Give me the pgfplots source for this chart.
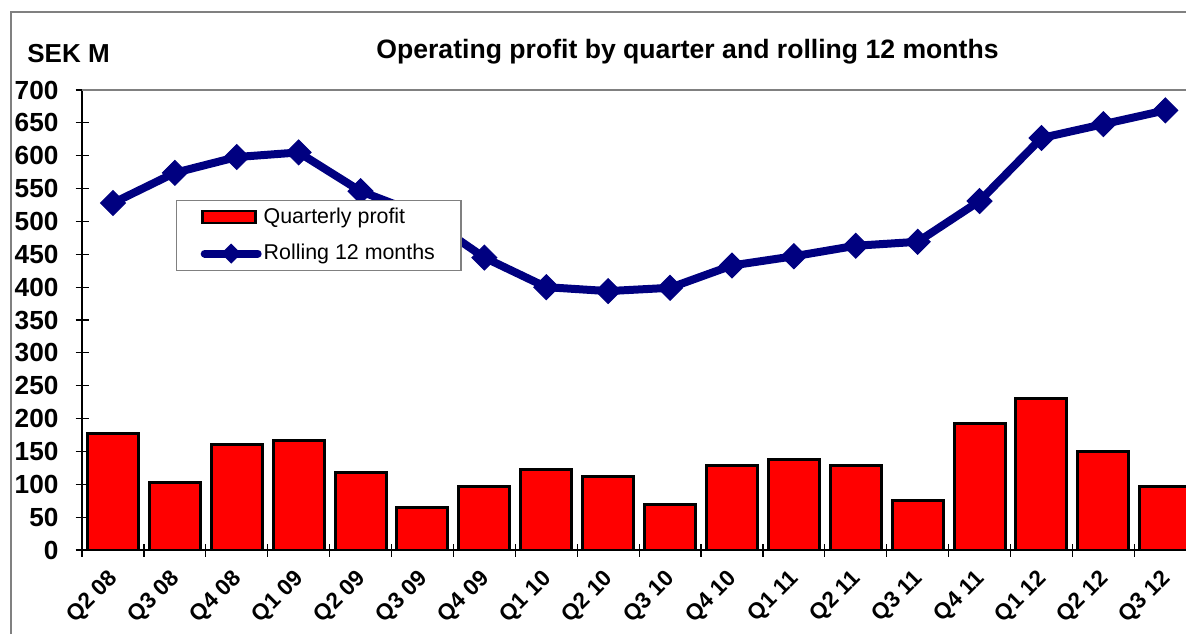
\documentclass[border=0pt]{standalone}
\usepackage{fontspec}
\setmainfont{Liberation Sans}
\usepackage{pgfplots}
\pgfplotsset{compat=1.18}
\definecolor{barred}{RGB}{255,0,0}
\definecolor{navyline}{RGB}{0,0,128}
\definecolor{framegray}{RGB}{128,128,128}

\begin{document}
\begin{tikzpicture}
\useasboundingbox (0,0) rectangle (593pt,317pt);
\draw[framegray, line width=0.8pt] (5.35pt,0pt) -- (5.35pt,311.1pt) -- (593pt,311.1pt);
\node[anchor=base west, inner sep=0pt, font=\bfseries\fontsize{13}{14}\selectfont] at (13.5pt,286pt) {SEK M};
\node[anchor=base, inner sep=0pt, font=\bfseries\fontsize{13.3}{15}\selectfont] at (343.75pt,288pt) {Operating profit by quarter and rolling 12 months};
\begin{axis}[
  at={(41pt,42pt)}, anchor=south west,
  scale only axis, width=552pt, height=230pt,
  xmin=-0.5, xmax=17.335, ymin=0, ymax=700,
  axis x line*=bottom, axis y line*=left,
  axis line style={-, black, line width=1pt},
  after end axis/.code={\draw[framegray, line width=0.8pt] (rel axis cs:0,1) -- (rel axis cs:1,1);},
  ytick={0,50,...,700},
  tick align=center, major tick length=6.5pt,
  tick style={black, line width=0.6pt},
  /pgf/number format/assume math mode=true,
  yticklabel style={font=\bfseries\fontsize{13.1}{15}\selectfont, xshift=-5pt},
  xtick={-0.5,0.5,...,16.5},
  xticklabels={},
  extra x ticks={0,1,...,17},
  extra x tick labels={Q2 08,Q3 08,Q4 08,Q1 09,Q2 09,Q3 09,Q4 09,Q1 10,Q2 10,Q3 10,Q4 10,Q1 11,Q2 11,Q3 11,Q4 11,Q1 12,Q2 12,Q3 12},
  extra x tick style={major tick length=0pt, xticklabel style={font=\bfseries\fontsize{11.3}{12}\selectfont, inner sep=0pt, xshift=-2.75pt, yshift=-9pt, rotate=45, anchor=north east}},
  legend style={at={(axis cs:1.02,533)}, anchor=north west, draw=framegray, line width=0.6pt,
    font=\fontsize{10.7}{12}\selectfont, inner xsep=12pt, inner ysep=1.75pt, row sep=5pt,
    cells={anchor=west}, nodes={inner xsep=1pt}},
  legend cell align=left,
]
\addplot[ybar, bar width=0.824, fill=barred, draw=black, line width=1.5pt,
  legend image code/.code={\draw[fill=barred, draw=black, line width=1.2pt] (0pt,-3pt) rectangle (26.5pt,3pt);}]
  coordinates {(0,178) (1,102) (2,160) (3,167) (4,118) (5,65) (6,96) (7,123) (8,112) (9,70) (10,129) (11,137) (12,128) (13,76) (14,192) (15,231) (16,150) (17,96)};
\addlegendentry{Quarterly profit}
\addplot[navyline, line width=4pt, mark=square*, mark size=4.4pt,
  mark options={rotate=45, solid, fill=navyline, draw=navyline, line width=0.5pt},
  legend image code/.code={\draw[navyline, line width=4pt, line cap=round] (1pt,0pt) -- (27.5pt,0pt);
    \fill[navyline] (14.25pt,2.2pt) -- (16.45pt,0pt) -- (14.25pt,-2.2pt) -- (12.05pt,0pt) -- cycle;}]
  coordinates {(0,528) (1,574) (2,598) (3,605) (4,546) (5,510) (6,445) (7,400) (8,394) (9,399) (10,433) (11,447) (12,463) (13,469) (14,531) (15,627) (16,648) (17,669)};
\addlegendentry{Rolling 12 months}
\end{axis}
\end{tikzpicture}
\end{document}
